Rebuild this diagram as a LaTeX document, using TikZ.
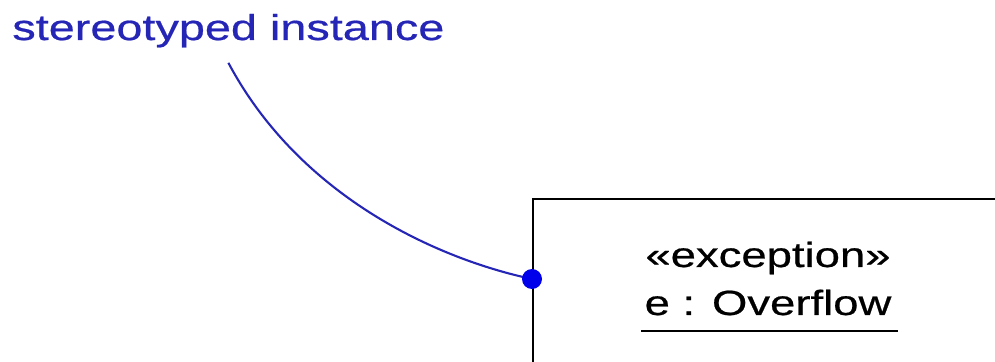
\documentclass[tikz,border=0pt]{standalone}
\usepackage{fontspec}
\setmainfont{Liberation Sans}[FakeStretch=1.3,FakeBold=0.6]
\definecolor{noteblue}{RGB}{38,38,182}
\definecolor{pinblue}{RGB}{0,0,235}

\begin{document}
\begin{tikzpicture}[
  x=0.02cm, y=0.02cm,
  note/.style={text=noteblue,font=\fontsize{20.5}{24}\selectfont,inner sep=0pt},
  umltext/.style={font=\fontsize{19.9}{24}\selectfont,inner sep=0pt},
  pinline/.style={draw=noteblue,line width=1.2pt},
  instbox/.style={draw,line width=1.4pt,minimum width=12cm,minimum height=6cm}
]
  \useasboundingbox (0,0) rectangle (995,362);
  \clip (0,0) rectangle (995,362);

  \node[note,anchor=base west] (note) at (12,322) {stereotyped instance};

  \node[instbox,anchor=north west] (inst) at (532,164) {};
  \node[umltext,anchor=base] (stereo) at (768,95) {«exception»};
  \node[umltext,anchor=base] (name) at (768,47) {e : Overflow};
  \draw[line width=1.1pt] ([shift={(-3,-15)}]name.south west) -- ([shift={(6,-15)}]name.south east);

  \coordinate (pin) at (532,83);
  \draw[pinline] ([yshift=-0.30cm]note.south) .. controls +(-62:150) and +(168:99) .. (pin);
  \fill[pinblue] (pin) circle (10);
\end{tikzpicture}
\end{document}
